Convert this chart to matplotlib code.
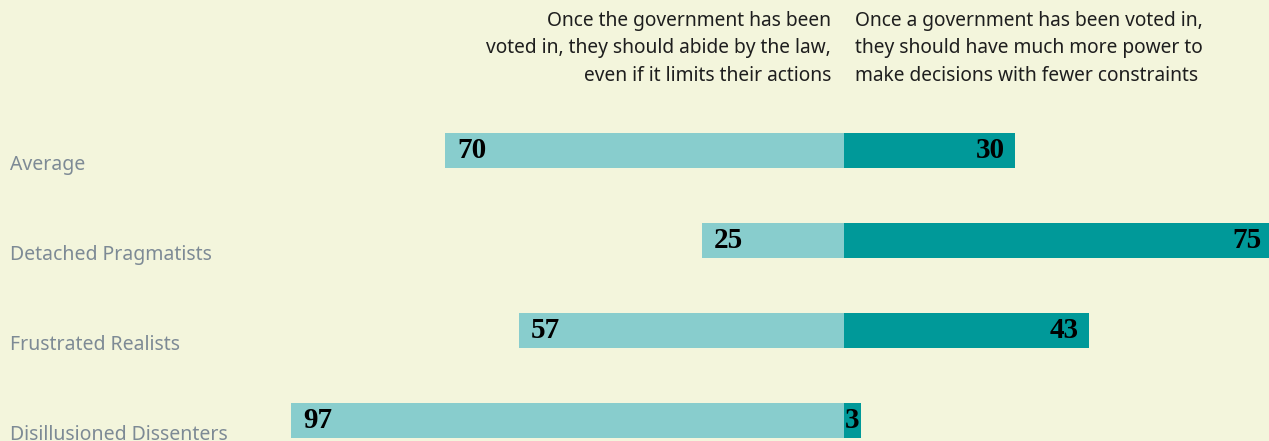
import matplotlib
matplotlib.use("Agg")
import matplotlib.pyplot as plt
from matplotlib.transforms import blended_transform_factory

# Segment data
segments = ["Average", "Detached Pragmatists", "Frustrated Realists", "Disillusioned Dissenters"]
abide_by_law = [70, 25, 57, 97]
more_power = [30, 75, 43, 3]

header_left = ["Once the government has been",
               "voted in, they should abide by the law,",
               "even if it limits their actions"]
header_right = ["Once a government has been voted in,",
                "they should have much more power to",
                "make decisions with fewer constraints"]

BG = "#F3F5DC"
LIGHT = "#88CDCD"
DARK = "#009999"
LABEL_GREY = "#7D8A95"
TEXT = "#1E1E1E"

W, H, DPI = 1269, 441, 100
fig = plt.figure(figsize=(W / DPI, H / DPI), dpi=DPI, facecolor=BG)
ax = fig.add_axes([0, 0, 1, 1])
ax.set_facecolor(BG)

px_per_unit = 5.7
center_px = 844
ax.set_xlim(-center_px / px_per_unit, (W - center_px) / px_per_unit)
row_px = 90
first_px = 150.5
ax.set_ylim((H - first_px) / row_px, -first_px / row_px)
ax.axis("off")

ys = list(range(len(segments)))
bar_h = 35 / row_px
ax.barh(ys, [-v for v in abide_by_law], height=bar_h, color=LIGHT, linewidth=0)
ax.barh(ys, more_power, height=bar_h, color=DARK, linewidth=0)

sans = ["Noto Sans", "DejaVu Sans"]
num_font = dict(family="Liberation Serif", weight="bold", size=21, color="#000000")

pad = 12 / px_per_unit
for y, lv, rv in zip(ys, abide_by_law, more_power):
    ax.text(-lv + pad, y, f"{lv}", ha="left", va="center", **num_font)
    if rv * px_per_unit < 40:
        ax.text(0.1, y, f"{rv}", ha="left", va="center", **num_font)
    else:
        ax.text(rv - 10 / px_per_unit, y, f"{rv}", ha="right", va="center", **num_font)

tr = blended_transform_factory(fig.transFigure, ax.transData)
for y, name in zip(ys, segments):
    ax.text(10 / W, y + 19.5 / row_px, name, transform=tr, ha="left", va="baseline",
            family=sans, size=14, color=LABEL_GREY)

baselines = [26, 53.5, 81]
for b, line in zip(baselines, header_left):
    fig.text(831 / W, 1 - b / H, line, ha="right", va="baseline",
             family=sans, size=13.8, color=TEXT)
for b, line in zip(baselines, header_right):
    fig.text(855 / W, 1 - b / H, line, ha="left", va="baseline",
             family=sans, size=13.8, color=TEXT)

fig.savefig("out.png", dpi=DPI, facecolor=BG)
